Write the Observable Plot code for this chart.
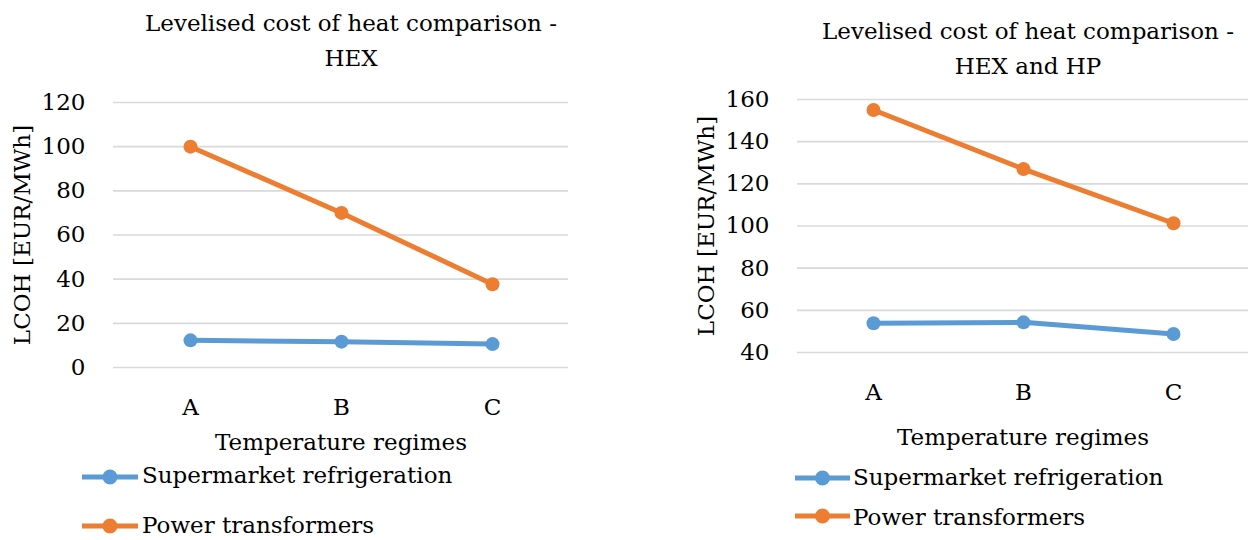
<!DOCTYPE html>
<html>
<head>
<meta charset="utf-8">
<script src="https://cdn.jsdelivr.net/npm/d3@7"></script>
<script src="https://cdn.jsdelivr.net/npm/@observablehq/plot@0.6"></script>
<style>
  html, body { margin: 0; padding: 0; background: #fff; }
  #wrap { position: relative; width: 1248px; height: 540px; overflow: hidden; font-family: "DejaVu Serif", serif; color: #000; }
  .panel { position: absolute; top: 0; width: 624px; height: 540px; }
  .title { position: absolute; width: 600px; text-align: center; font-size: 23px; line-height: 35px; white-space: nowrap; }
  .lg-text { position: absolute; font-size: 23px; line-height: 30px; white-space: nowrap; }
  .lg-sw { position: absolute; width: 60px; height: 20px; }
</style>
</head>
<body>
<div id="wrap"></div>
<script>
// ---------- data ----------
const regimes = ["A", "B", "C"];
const seriesNames = ["Supermarket refrigeration", "Power transformers"];
const seriesColors = ["#5b9bd5", "#ed7d31"];

// Panel 1: HEX
const hexTitle = ["Levelised cost of heat comparison -", "HEX"];
const hexSupermarket = [12.3, 11.7, 10.6];
const hexTransformers = [100, 70, 37.7];
const hexTicks = [0, 20, 40, 60, 80, 100, 120];

// Panel 2: HEX and HP
const hpTitle = ["Levelised cost of heat comparison -", "HEX and HP"];
const hpSupermarket = [53.9, 54.3, 48.8];
const hpTransformers = [155, 127, 101.3];
const hpTicks = [40, 60, 80, 100, 120, 140, 160];

const yLabel = "LCOH [EUR/MWh]";
const xLabel = "Temperature regimes";

function toRows(a, b) {
  const rows = [];
  regimes.forEach((r, i) => rows.push({regime: r, series: seriesNames[0], value: a[i]}));
  regimes.forEach((r, i) => rows.push({regime: r, series: seriesNames[1], value: b[i]}));
  return rows;
}

const FONT = "'DejaVu Serif', serif";

function makePlot(rows, ticks, m, xlo, ylo) {
  return Plot.plot({
    width: 624,
    height: 540,
    marginTop: m.top, marginBottom: m.bottom, marginLeft: m.left, marginRight: m.right,
    style: {fontFamily: FONT, fontSize: "23px", color: "#000", background: "transparent", overflow: "visible"},
    x: {type: "point", domain: regimes, padding: 0.5},
    y: {domain: [ticks[0], ticks[ticks.length - 1]]},
    color: {domain: seriesNames, range: seriesColors},
    marks: [
      Plot.gridY(ticks, {stroke: "#d9d9d9", strokeOpacity: 1, strokeWidth: 1.6}),
      Plot.axisY(ticks, {tickSize: 0, tickPadding: 28, label: yLabel, labelAnchor: "center", labelArrow: "none", labelOffset: ylo, fontSize: 23, fill: "#000"}),
      Plot.axisX({tickSize: 0, tickPadding: 31, label: xLabel, labelAnchor: "center", labelArrow: "none", labelOffset: xlo, fontSize: 23, fill: "#000"}),
      Plot.line(rows, {x: "regime", y: "value", stroke: "series", z: "series", strokeWidth: 5, strokeLinecap: "round"}),
      Plot.dot(rows, {x: "regime", y: "value", fill: "series", r: 7})
    ]
  });
}

const wrap = document.getElementById("wrap");

function addPanel(left, plot, title, titleCx, titleTop, legendRows) {
  const p = document.createElement("div");
  p.className = "panel";
  p.style.left = left + "px";
  p.appendChild(plot);
  wrap.appendChild(p);
  const t = document.createElement("div");
  t.className = "title";
  t.style.left = (titleCx - 300) + "px";
  t.style.top = titleTop + "px";
  t.innerHTML = title.join("<br>");
  wrap.appendChild(t);
  legendRows.forEach((lr, i) => {
    const sw = document.createElementNS("http://www.w3.org/2000/svg", "svg");
    sw.setAttribute("class", "lg-sw");
    sw.setAttribute("width", 60); sw.setAttribute("height", 20);
    sw.style.left = (lr.x0 - 2) + "px";
    sw.style.top = (lr.cy - 10) + "px";
    const w = lr.x1 - lr.x0;
    sw.innerHTML = `<line x1="2" y1="10" x2="${2 + w}" y2="10" stroke="${seriesColors[i]}" stroke-width="5"/>` +
                   `<circle cx="${2 + w / 2}" cy="10" r="7.5" fill="${seriesColors[i]}"/>`;
    wrap.appendChild(sw);
    const tx = document.createElement("div");
    tx.className = "lg-text";
    tx.style.left = lr.tx + "px";
    tx.style.top = (lr.base - 23) + "px";
    tx.textContent = seriesNames[i];
    wrap.appendChild(tx);
  });
}

const plot1 = makePlot(toRows(hexSupermarket, hexTransformers), hexTicks,
  {top: 102, bottom: 173, left: 113, right: 56}, 82, 100);
const plot2 = makePlot(toRows(hpSupermarket, hpTransformers), hpTicks,
  {top: 99, bottom: 188, left: 173, right: 0}, 92, 100);

addPanel(0, plot1, hexTitle, 351, 6,
  [{x0: 82, x1: 138, cy: 477, tx: 142, base: 483},
   {x0: 82, x1: 138, cy: 526, tx: 142, base: 533}]);
addPanel(624, plot2, hpTitle, 1028, 14,
  [{x0: 795, x1: 850, cy: 478, tx: 853, base: 485},
   {x0: 795, x1: 850, cy: 516, tx: 853, base: 525}]);
</script>
</body>
</html>
